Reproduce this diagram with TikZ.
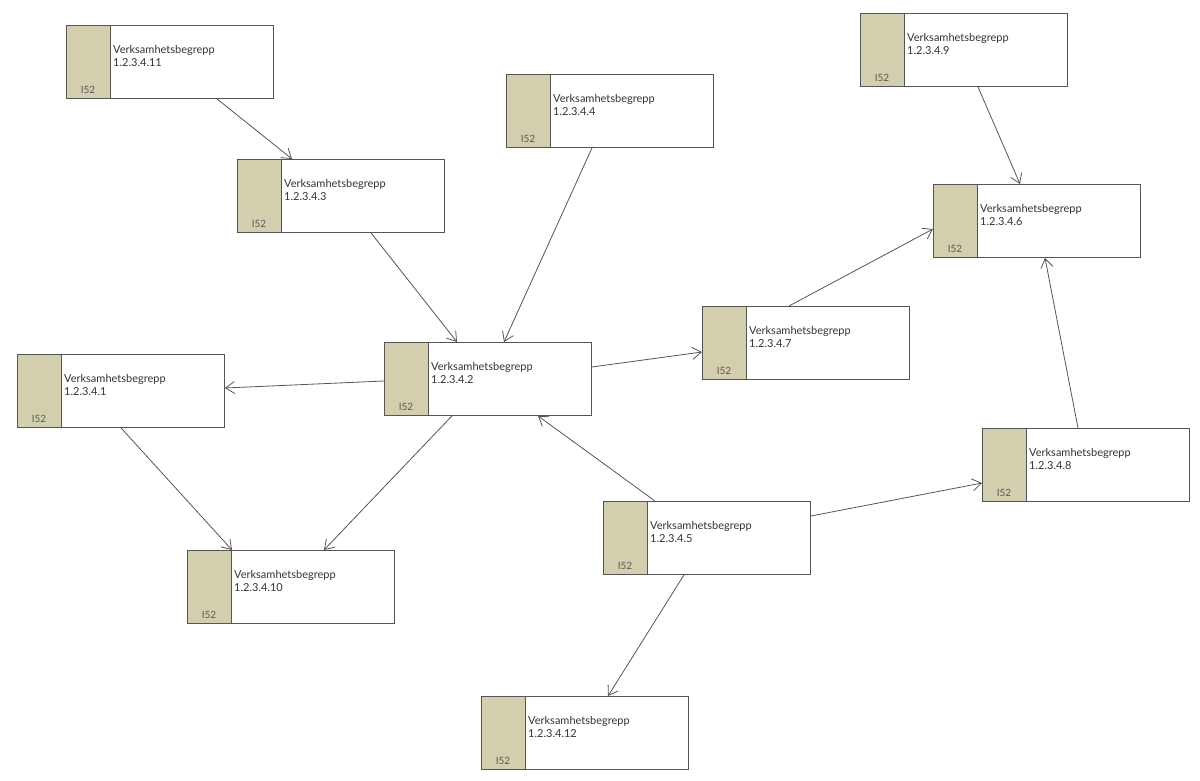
\documentclass[tikz,border=0pt]{standalone}
\usepackage{fontspec}
\setmainfont{Lato}
\usetikzlibrary{arrows.meta}
\definecolor{strip}{HTML}{D3CFAE}
\definecolor{edge}{HTML}{555555}
\tikzset{
  box/.style={draw=edge, line width=0.9pt, fill=white, minimum width=207pt, minimum height=73pt, inner sep=0pt, anchor=north west,
    path picture={\fill[strip] (path picture bounding box.north west) rectangle ([xshift=44pt]path picture bounding box.south west);
      \draw[edge, line width=0.9pt] ([xshift=44pt]path picture bounding box.north west) -- ([xshift=44pt]path picture bounding box.south west);}},
  title/.style={anchor=west, font=\fontsize{11pt}{13pt}\selectfont, text=black!80, inner sep=0pt, align=left},
  tag/.style={anchor=south, font=\fontsize{10pt}{12pt}\selectfont, text=black!65, inner sep=0pt},
  link/.style={draw=edge, line width=0.8pt, -{Straight Barb[length=9pt,width=12pt]}}
}
\newcommand{\vbbox}[4]{%
  \node[box] (#1) at (#2,#3) {};
  \node[title] (#1t) at ([xshift=47pt,yshift=-31pt]#1.north west) {Verksamhetsbegrepp\\1.2.3.4.#4};
  \node[tag] (#1g) at ([xshift=22pt,yshift=5pt]#1.south west) {I52};
}
\begin{document}
\begin{tikzpicture}[x=1pt,y=-1pt]
\useasboundingbox (0,0) rectangle (1200,781);
\vbbox{b11}{66}{25}{11}
\vbbox{b3}{237}{159}{3}
\vbbox{b4}{506}{74}{4}
\vbbox{b9}{860}{13}{9}
\vbbox{b6}{933}{184}{6}
\vbbox{b7}{702}{306}{7}
\vbbox{b2}{384}{342}{2}
\vbbox{b1}{17}{354}{1}
\vbbox{b8}{982}{428}{8}
\vbbox{b5}{603}{501}{5}
\vbbox{b10}{187}{550}{10}
\vbbox{b12}{481}{696}{12}
\draw[link] ([xshift=151pt]b11.south west) -- ([xshift=55pt]b3.north west);
\draw[link] ([xshift=134pt]b3.south west) -- ([xshift=73pt]b2.north west);
\draw[link] ([xshift=86pt]b4.south west) -- ([xshift=120pt]b2.north west);
\draw[link] ([yshift=-39pt]b2.north west) -- ([yshift=-34pt]b1.north east);
\draw[link] ([yshift=-25pt]b2.north east) -- ([yshift=-46pt]b7.north west);
\draw[link] ([xshift=68pt]b2.south west) -- ([xshift=137pt]b10.north west);
\draw[link] ([xshift=104pt]b1.south west) -- ([xshift=45pt]b10.north west);
\draw[link] ([xshift=52pt]b5.north west) -- ([xshift=154pt]b2.south west);
\draw[link] ([yshift=-15pt]b5.north east) -- ([yshift=-55pt]b8.north west);
\draw[link] ([xshift=81pt]b5.south west) -- ([xshift=127pt]b12.north west);
\draw[link] ([xshift=87pt]b7.north west) -- ([yshift=-45pt]b6.north west);
\draw[link] ([xshift=96pt]b8.north west) -- ([xshift=112pt]b6.south west);
\draw[link] ([xshift=118pt]b9.south west) -- ([xshift=87pt]b6.north west);
\end{tikzpicture}
\end{document}
